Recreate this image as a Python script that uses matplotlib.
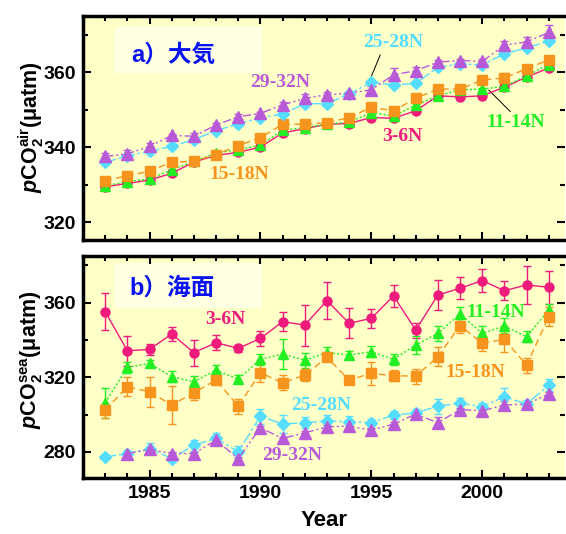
import numpy as np
import matplotlib.pyplot as plt
from matplotlib.patches import Rectangle

years = np.arange(1983, 2004)

# a) atmosphere pCO2 (uatm)
air_3_6 = [329.4, 330.3, 331.2, 333.0, 336.0, 337.8, 338.6, 340.0, 343.8, 344.9, 346.1,
           346.3, 347.9, 347.7, 349.7, 353.7, 353.4, 353.7, 356.0, 358.7, 361.1]
air_11_14 = [329.6, 330.8, 331.5, 333.9, 336.2, 338.4, 339.3, 340.5, 344.5, 345.2, 346.1,
             346.7, 349.2, 348.3, 351.2, 353.7, 355.3, 355.5, 356.2, 359.1, 362.0]
air_15_18 = [331.0, 332.4, 333.5, 336.0, 336.2, 338.0, 340.4, 342.5, 346.1, 346.1, 346.5,
             347.9, 350.6, 349.7, 353.0, 355.5, 355.5, 357.9, 358.5, 360.9, 363.3]
air_25_28 = [335.9, 337.7, 338.9, 340.2, 342.0, 344.4, 346.2, 347.9, 348.8, 351.6, 351.6,
             354.2, 357.3, 356.6, 357.0, 361.3, 362.2, 362.0, 364.9, 366.5, 368.3]
air_29_32 = [337.5, 338.2, 340.2, 343.1, 342.9, 345.9, 348.1, 349.0, 351.3, 353.0, 354.0,
             354.4, 355.3, 359.3, 360.4, 362.7, 363.1, 362.9, 367.2, 368.1, 370.6]
air_err_3_6 = [0.3] * 21
air_err_11_14 = [0.3] * 21
air_err_15_18 = [0.5, 0.5, 0.5, 0.5, 0.5, 0.5, 0.5, 0.5, 0.5, 0.5, 0.5,
                 0.5, 0.6, 0.5, 0.5, 0.5, 0.5, 0.6, 1.3, 0.6, 0.6]
air_err_25_28 = [0.5] * 21
air_err_29_32 = [0.8, 1.0, 0.8, 0.5, 0.8, 0.6, 0.8, 0.5, 0.8, 1.2, 0.8,
                 0.6, 1.0, 1.8, 1.0, 0.5, 0.5, 0.6, 1.0, 1.2, 2.0]

# b) sea surface pCO2 (uatm)
sea_3_6 = [355.2, 334.2, 334.9, 343.2, 333.2, 338.5, 335.5, 340.8, 349.8, 348.0, 361.1,
           348.9, 351.6, 363.6, 345.3, 364.1, 367.7, 371.8, 366.4, 369.5, 368.2]
sea_err_3_6 = [10, 8, 3, 4, 7, 4, 2, 4, 5, 11, 10, 8, 5, 6, 4, 8, 6, 6, 5, 10, 9]
sea_11_14 = [306.3, 325.3, 327.4, 320.3, 317.6, 323.8, 319.0, 329.6, 332.4, 329.2, 333.2,
             331.9, 333.7, 329.6, 337.3, 343.5, 353.9, 343.5, 347.5, 341.7, 356.1]
sea_err_11_14 = [8, 3, 2, 3, 3, 3, 2, 3, 8, 4, 3, 2, 3, 3, 5, 4, 4, 4, 4, 3, 3]
sea_15_18 = [302.4, 314.9, 312.2, 305.1, 311.7, 318.5, 304.5, 322.4, 317.0, 321.2, 330.6,
             318.5, 322.1, 320.8, 320.6, 331.0, 347.7, 338.2, 340.3, 326.5, 352.5]
sea_err_15_18 = [4, 5, 8, 10, 4, 2, 4, 5, 4, 3, 2, 2, 6, 3, 4, 5, 4, 4, 7, 4, 5]
sea_25_28 = [277.3, 279.1, 281.8, 276.4, 283.6, 287.2, 280.0, 299.1, 294.9, 295.6, 296.6,
             296.1, 295.6, 299.7, 300.9, 304.5, 306.0, 304.2, 309.5, 305.6, 315.8]
sea_err_25_28 = [1, 2, 3, 2, 3, 3, 3, 4, 5, 3, 3, 3, 2, 2, 2, 4, 3, 2, 5, 2, 3]
years_29_32 = np.arange(1984, 2004)
sea_29_32 = [279.1, 281.3, 279.1, 279.1, 286.3, 276.4, 292.9, 287.2, 290.2, 293.4,
             293.8, 291.6, 294.9, 300.2, 295.6, 302.7, 302.0, 305.1, 305.6, 311.0]
sea_err_29_32 = [1, 1, 1, 1, 2, 1, 1, 1, 1, 1, 1, 1, 1, 1, 3, 1, 1, 2, 1, 1]

c_3_6 = '#EE1A7C'
c_11_14 = '#22EE22'
c_15_18 = '#F7941D'
c_25_28 = '#55DDFF'
c_29_32 = '#B85AD8'

plt.rcParams['mathtext.fontset'] = 'custom'
plt.rcParams['mathtext.rm'] = 'Liberation Sans:bold'
plt.rcParams['mathtext.it'] = 'Liberation Sans:italic:bold'
plt.rcParams['font.family'] = ['Liberation Sans', 'DejaVu Sans']

fig = plt.figure(figsize=(5.66, 5.34), dpi=100)
ax1 = fig.add_axes([0.1466, 0.5506, 0.8524, 0.4194])
ax2 = fig.add_axes([0.1466, 0.1049, 0.8524, 0.4157])

def draw_series(ax, x, y, err, color, marker, ls, ms):
    ax.errorbar(x, y, yerr=err, color=color, marker=marker, ms=ms, ls=ls, lw=1.0,
                elinewidth=1.0, capsize=3, capthick=1.0, mec=color, mfc=color)

def style_axes(ax, ylim, major, minor):
    ax.set_facecolor('#FFFFC8')
    ax.set_xlim(1982, 2003.75)
    ax.set_ylim(*ylim)
    ax.set_xticks(range(1985, 2004, 5))
    ax.set_xticks(range(1982, 2004), minor=True)
    ax.set_yticks(major)
    ax.set_yticks(minor, minor=True)
    ax.spines['right'].set_visible(False)
    for s in ['left', 'top', 'bottom']:
        ax.spines[s].set_linewidth(2.5)
    ax.tick_params(which='both', direction='in', top=True, right=True, width=1.5)
    ax.tick_params(which='major', length=6, labelsize=14, pad=5)
    ax.tick_params(which='minor', length=3.5)
    for lab in ax.get_xticklabels() + ax.get_yticklabels():
        lab.set_fontweight('bold')

# a) air
draw_series(ax1, years, air_3_6, air_err_3_6, c_3_6, 'o', '-', 6.5)
draw_series(ax1, years, air_11_14, air_err_11_14, c_11_14, '^', (0, (1.5, 1.5)), 7.5)
draw_series(ax1, years, air_15_18, air_err_15_18, c_15_18, 's', (0, (5, 3)), 7)
draw_series(ax1, years, air_25_28, air_err_25_28, c_25_28, 'D', (0, (8, 2, 2, 2)), 6.5)
draw_series(ax1, years, air_29_32, air_err_29_32, c_29_32, '^', (0, (6, 2, 1.5, 2, 1.5, 2)), 8)
style_axes(ax1, (315.2, 375), [320, 340, 360], [330, 350, 370])
ax1.set_xticklabels([])

# b) sea
draw_series(ax2, years, sea_3_6, sea_err_3_6, c_3_6, 'o', '-', 6.5)
draw_series(ax2, years, sea_11_14, sea_err_11_14, c_11_14, '^', (0, (1.5, 1.5)), 7.5)
draw_series(ax2, years, sea_15_18, sea_err_15_18, c_15_18, 's', (0, (5, 3)), 7)
draw_series(ax2, years, sea_25_28, sea_err_25_28, c_25_28, 'D', (0, (8, 2, 2, 2)), 6.5)
draw_series(ax2, years_29_32, sea_29_32, sea_err_29_32, c_29_32, '^', (0, (6, 2, 1.5, 2, 1.5, 2)), 8)
style_axes(ax2, (266, 385), [280, 320, 360], [300, 340, 380])
ax2.set_xlabel('Year', fontsize=16, fontweight='bold', labelpad=6)

# panel titles on lighter boxes
cjk = ['Liberation Sans', 'Noto Sans CJK JP']
ax1.add_patch(Rectangle((0.066, 0.746), 0.305, 0.205, transform=ax1.transAxes,
                        facecolor='#FFFFE2', edgecolor='none', zorder=0.5))
ax1.text(0.101, 0.826, 'a）大気', transform=ax1.transAxes, color='#0A14F0',
         fontsize=17, fontweight='bold', family=cjk, va='center')
ax2.add_patch(Rectangle((0.066, 0.766), 0.305, 0.202, transform=ax2.transAxes,
                        facecolor='#FFFFE2', edgecolor='none', zorder=0.5))
ax2.text(0.097, 0.856, 'b）海面', transform=ax2.transAxes, color='#0A14F0',
         fontsize=17, fontweight='bold', family=cjk, va='center')

# series labels
lab = dict(fontsize=14, fontweight='bold', family='Liberation Serif', ha='center', va='center')
ax1.text(1996.0, 368.0, '25-28N', color=c_25_28, **lab)
ax1.text(1990.9, 357.3, '29-32N', color=c_29_32, **lab)
ax1.text(1996.4, 342.8, '3-6N', color=c_3_6, **lab)
ax1.text(1989.05, 332.6, '15-18N', color=c_15_18, **lab)
ax1.text(2001.5, 346.6, '11-14N', color=c_11_14, **lab)
ax1.plot([1995.4, 1995.0], [364.6, 358.9], color='black', lw=0.7)
ax1.plot([2001.26, 2000.3], [349.5, 355.2], color='black', lw=0.7)

ax2.text(1988.4, 350.7, '3-6N', color=c_3_6, **lab)
ax2.text(2000.6, 354.5, '11-14N', color=c_11_14, **lab)
ax2.text(1999.7, 322.8, '15-18N', color=c_15_18, **lab)
ax2.text(1992.75, 305.0, '25-28N', color=c_25_28, **lab)
ax2.text(1991.45, 278.2, '29-32N', color=c_29_32, **lab)

# y labels
fig.text(0.056, 0.762, r'$\mathit{p}\mathrm{CO}_2^{\mathrm{air}}$(μatm)', rotation=90,
         fontsize=15.5, fontweight='bold', ha='center', va='center')
fig.text(0.056, 0.326, r'$\mathit{p}\mathrm{CO}_2^{\mathrm{sea}}$(μatm)', rotation=90,
         fontsize=15.5, fontweight='bold', ha='center', va='center')

fig.savefig('out.png', dpi=100)
